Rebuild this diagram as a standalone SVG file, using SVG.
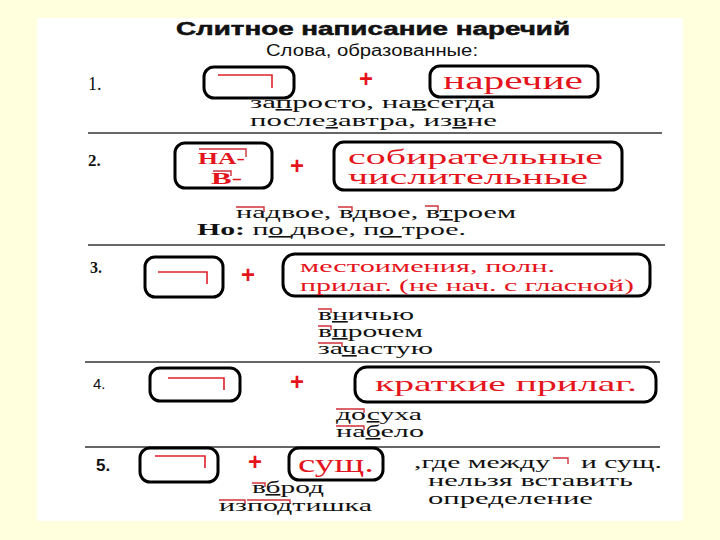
<svg xmlns="http://www.w3.org/2000/svg" width="720" height="540" viewBox="0 0 720 540">
<style>
.bg{fill:#FFFFDD}
.box{fill:none;stroke:#000;stroke-width:3}
.sym{fill:none;stroke:#E0202A;stroke-width:1.6}
.mk{fill:none;stroke:#D03038;stroke-width:1.4}
.sep{stroke:#333;stroke-width:1.6}
.ser{font-family:"Liberation Serif","Times New Roman",serif;fill:#111}
.ex{font-size:16px}
.sans{font-family:"Liberation Sans",Arial,sans-serif;fill:#111}
.red{fill:#E4141C}
.plus{font-family:"Liberation Sans",Arial,sans-serif;font-weight:bold;font-size:24px;fill:#E4141C;text-anchor:middle}
.u{text-decoration:underline}
</style>
<rect class="bg" x="0" y="0" width="720" height="540"/>
<rect x="37" y="18" width="646" height="503" fill="#FFFFFF"/>

<g id="title">
<text class="sans" x="176" y="35" font-size="18" font-weight="900" stroke="#111" stroke-width="0.5" textLength="394" lengthAdjust="spacingAndGlyphs">Слитное написание наречий</text>
<text class="sans" x="266" y="56" font-size="16" textLength="212" lengthAdjust="spacingAndGlyphs">Слова, образованные:</text>
</g>

<g id="separators">
<line class="sep" x1="88" y1="133" x2="662" y2="133"/>
<line class="sep" x1="88" y1="245" x2="665" y2="245"/>
<line class="sep" x1="85" y1="362" x2="660" y2="362"/>
<line class="sep" x1="85" y1="447" x2="660" y2="447"/>
</g>

<g id="connectors"></g>

<!-- Section 1 -->
<g id="s1-num"><text class="ser" x="88" y="90" font-size="18">1.</text></g>
<g id="s1-prefix">
<rect class="box" x="204" y="67" width="90" height="31" rx="10"/>
<path class="sym" d="M218 75H272V88"/>
</g>
<g id="s1-plus"><text class="plus" x="366" y="87">+</text></g>
<g id="s1-base">
<rect class="box" x="430" y="66" width="168" height="31" rx="10"/>
<text class="ser red" x="513" y="89" font-size="25" text-anchor="middle" textLength="140" lengthAdjust="spacingAndGlyphs">наречие</text>
</g>
<g id="s1-examples">
<text class="ser ex" x="250" y="108" textLength="245" lengthAdjust="spacingAndGlyphs">за<tspan class="u">п</tspan>росто, на<tspan class="u">в</tspan>сегда</text>
<text class="ser ex" x="250" y="126" textLength="247" lengthAdjust="spacingAndGlyphs">после<tspan class="u">з</tspan>автра, из<tspan class="u">в</tspan>не</text>
</g>

<!-- Section 2 -->
<g id="s2-num"><text class="ser" x="88" y="166" font-size="17" font-weight="bold">2.</text></g>
<g id="s2-prefix">
<rect class="box" x="175" y="143" width="97" height="45" rx="10"/>
<path class="mk" d="M199 149H246V157"/>
<path class="mk" d="M213 171H231V176"/>
<text class="ser red" x="198" y="164" font-size="17" font-weight="bold" textLength="47" lengthAdjust="spacingAndGlyphs">НА-</text>
<text class="ser red" x="211" y="184" font-size="17" font-weight="bold" textLength="31" lengthAdjust="spacingAndGlyphs">В-</text>
</g>
<g id="s2-plus"><text class="plus" x="297" y="174">+</text></g>
<g id="s2-base">
<rect class="box" x="334" y="142" width="288" height="48" rx="10"/>
<text class="ser red" x="348" y="164" font-size="20" textLength="255" lengthAdjust="spacingAndGlyphs">собирательные</text>
<text class="ser red" x="348" y="184" font-size="20" textLength="240" lengthAdjust="spacingAndGlyphs">числительные</text>
</g>
<g id="s2-examples">
<path class="mk" d="M236 207H264V212"/>
<path class="mk" d="M338 207H352V212"/>
<path class="mk" d="M425 206H438V211"/>
<text class="ser ex" x="236" y="218" textLength="280" lengthAdjust="spacingAndGlyphs">на<tspan class="u">д</tspan>вое, в<tspan class="u">д</tspan>вое, в<tspan class="u">т</tspan>роем</text>
<text class="ser ex" x="197" y="235" textLength="269" lengthAdjust="spacingAndGlyphs"><tspan font-weight="bold">Но:</tspan> п<tspan class="u">о </tspan><tspan class="u">д</tspan>вое, п<tspan class="u">о </tspan>трое.</text>
</g>

<!-- Section 3 -->
<g id="s3-num"><text class="ser" x="90" y="273" font-size="16" font-weight="bold">3.</text></g>
<g id="s3-prefix">
<rect class="box" x="145" y="257" width="78" height="40" rx="10"/>
<path class="sym" d="M158 272H207V284"/>
</g>
<g id="s3-plus"><text class="plus" x="248" y="283">+</text></g>
<g id="s3-base">
<rect class="box" x="283" y="254" width="367" height="42" rx="12"/>
<text class="ser red" x="300" y="272" font-size="16" textLength="255" lengthAdjust="spacingAndGlyphs">местоимения, полн.</text>
<text class="ser red" x="300" y="291" font-size="16" textLength="334" lengthAdjust="spacingAndGlyphs">прилаг. (не нач. с гласной)</text>
</g>
<g id="s3-examples">
<path class="mk" d="M318 309H331V313"/>
<path class="mk" d="M318 326H331V330"/>
<path class="mk" d="M318 343H342V347"/>
<text class="ser ex" x="318" y="320" textLength="96" lengthAdjust="spacingAndGlyphs">в<tspan class="u">н</tspan>ичью</text>
<text class="ser ex" x="318" y="337" textLength="105" lengthAdjust="spacingAndGlyphs">в<tspan class="u">п</tspan>рочем</text>
<text class="ser ex" x="318" y="354" textLength="115" lengthAdjust="spacingAndGlyphs">за<tspan class="u">ч</tspan>астую</text>
</g>

<!-- Section 4 -->
<g id="s4-num"><text class="sans" x="93" y="389" font-size="15">4.</text></g>
<g id="s4-prefix">
<rect class="box" x="150" y="368" width="90" height="33" rx="10"/>
<path class="sym" d="M168 378H224V390"/>
</g>
<g id="s4-plus"><text class="plus" x="297" y="390">+</text></g>
<g id="s4-base">
<rect class="box" x="355" y="367" width="301" height="35" rx="12"/>
<text class="ser red" x="375" y="391" font-size="22" textLength="262" lengthAdjust="spacingAndGlyphs">краткие прилаг.</text>
</g>
<g id="s4-examples">
<path class="mk" d="M336 409H364V413"/>
<path class="mk" d="M336 426H364V430"/>
<text class="ser ex" x="336" y="420" textLength="86" lengthAdjust="spacingAndGlyphs">до<tspan class="u">с</tspan>уха</text>
<text class="ser ex" x="336" y="437" textLength="88" lengthAdjust="spacingAndGlyphs">на<tspan class="u">б</tspan>ело</text>
</g>

<!-- Section 5 -->
<g id="s5-num"><text class="sans" x="96" y="471" font-size="17" font-weight="bold">5.</text></g>
<g id="s5-prefix">
<rect class="box" x="140" y="448" width="78" height="34" rx="10"/>
<path class="sym" d="M155 456H205V468"/>
</g>
<g id="s5-plus"><text class="plus" x="255" y="470">+</text></g>
<g id="s5-base">
<rect class="box" x="289" y="448" width="94" height="32" rx="10"/>
<text class="ser red" x="336" y="472" font-size="26" text-anchor="middle" textLength="76" lengthAdjust="spacingAndGlyphs">сущ.</text>
</g>
<g id="s5-note">
<text class="ser ex" x="414" y="468" textLength="136" lengthAdjust="spacingAndGlyphs">,где между</text>
<path class="mk" d="M553 458H568V464"/>
<text class="ser ex" x="581" y="468" textLength="81" lengthAdjust="spacingAndGlyphs">и сущ.</text>
<text class="ser ex" x="428" y="486" textLength="205" lengthAdjust="spacingAndGlyphs">нельзя вставить</text>
<text class="ser ex" x="428" y="504" textLength="165" lengthAdjust="spacingAndGlyphs">определение</text>
</g>
<g id="s5-examples">
<path class="mk" d="M252 483H265V487"/>
<path class="mk" d="M219 500H245V504"/>
<path class="mk" d="M247 500H290V504"/>
<text class="ser ex" x="252" y="493" textLength="72" lengthAdjust="spacingAndGlyphs">в<tspan class="u">б</tspan>род</text>
<text class="ser ex" x="219" y="511" textLength="153" lengthAdjust="spacingAndGlyphs">изпо<tspan class="u">д</tspan>тишка</text>
</g>
</svg>
